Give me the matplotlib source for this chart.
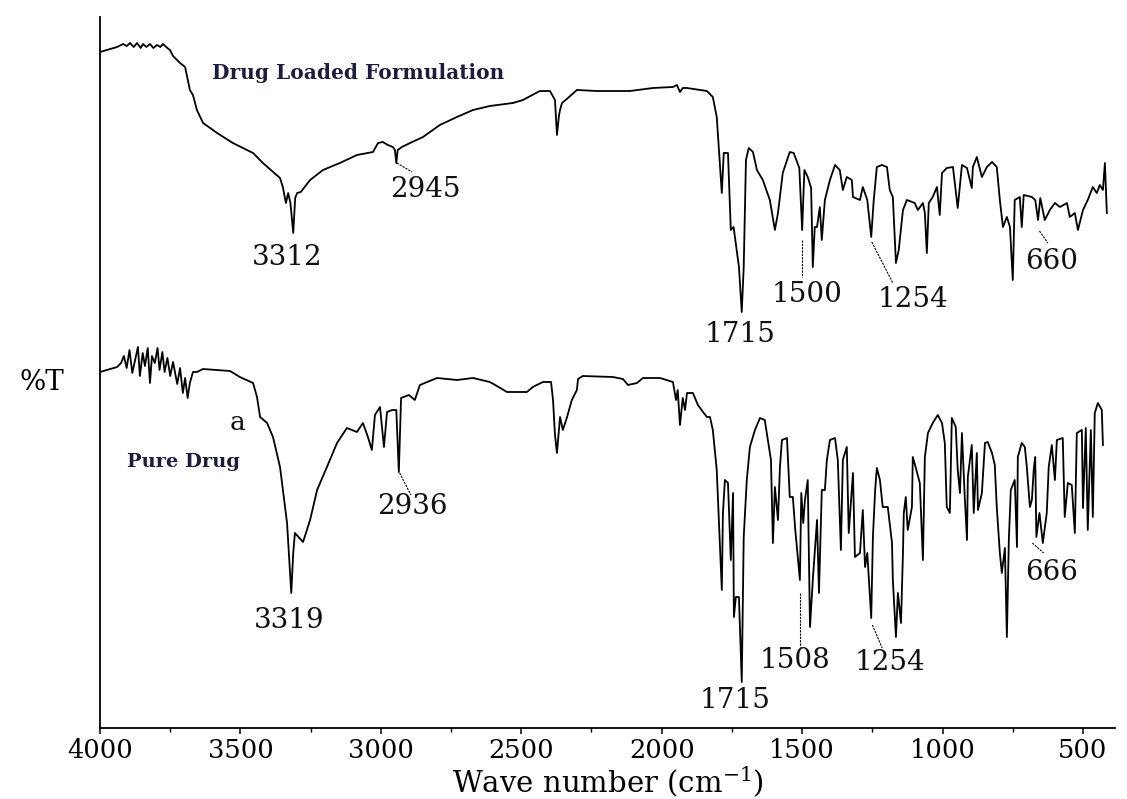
import matplotlib
matplotlib.use("Agg")
import matplotlib.pyplot as plt
from matplotlib.ticker import FixedLocator, MultipleLocator

plt.rcParams["font.family"] = ["DejaVu Serif"]

# FTIR spectrum of the drug-loaded formulation (upper trace, offset %T units)
wn_loaded = [
    4000, 3964, 3939, 3918, 3905, 3893, 3880, 3868, 3855, 3847, 3835, 3822, 3810,
    3797, 3785, 3776, 3760, 3751, 3740, 3733, 3715, 3697, 3680, 3669, 3655, 3633,
    3608, 3583, 3527, 3455, 3420, 3359, 3349, 3338, 3330, 3322, 3312, 3305, 3298,
    3285, 3252, 3206, 3146, 3085, 3028, 3010, 2993, 2975, 2957, 2950, 2945, 2940,
    2925, 2896, 2850, 2790, 2729, 2672, 2612, 2530, 2494, 2434, 2398, 2380, 2373,
    2366, 2362, 2355, 2334, 2302, 2231, 2113, 2031, 1960, 1946, 1935, 1925, 1910,
    1839, 1818, 1804, 1793, 1786, 1779, 1764, 1754, 1744, 1725, 1715, 1708, 1700,
    1690, 1675, 1661, 1640, 1615, 1597, 1586, 1569, 1544, 1530, 1510, 1500, 1492,
    1480, 1468, 1462, 1455, 1447, 1437, 1430, 1419, 1401, 1383, 1366, 1355, 1341,
    1323, 1319, 1294, 1284, 1268, 1254, 1245, 1234, 1216, 1198, 1188, 1177, 1166,
    1156, 1141, 1127, 1099, 1088, 1070, 1063, 1056, 1049, 1035, 1020, 1010, 1002,
    985, 963, 946, 931, 913, 896, 892, 878, 860, 842, 824, 807, 796, 785, 771,
    760, 750, 743, 725, 718, 711, 682, 670, 660, 652, 636, 618, 600, 582, 557,
    547, 529, 518, 500, 483, 465, 451, 440, 429, 422, 415,
]
t_loaded = [
    676, 679, 681, 684, 682, 685, 681, 685, 680, 684, 681, 684, 680,
    683, 681, 684, 680, 678, 672, 670, 665, 661, 638, 633, 618, 605,
    600, 595, 585, 575, 565, 550, 541, 525, 535, 525, 495, 530, 535,
    536, 548, 558, 565, 573, 576, 585, 586, 583, 581, 578, 565, 578,
    581, 585, 591, 603, 611, 618, 622, 625, 628, 637, 637, 628, 593,
    612, 618, 625, 630, 638, 637, 637, 640, 641, 643, 636, 640, 640,
    637, 631, 611, 565, 535, 575, 575, 498, 501, 461, 416, 461, 568,
    580, 576, 558, 548, 528, 498, 515, 555, 576, 575, 560, 498, 558,
    551, 540, 461, 501, 501, 521, 488, 528, 548, 563, 558, 538, 551,
    548, 531, 528, 541, 528, 491, 528, 561, 563, 561, 538, 531, 465,
    478, 518, 528, 525, 518, 525, 515, 475, 525, 531, 541, 513, 555,
    560, 561, 520, 563, 560, 540, 561, 571, 551, 561, 566, 561, 528, 501, 511,
    501, 448, 528, 531, 501, 533, 531, 528, 508, 530, 508, 518, 525, 521, 525,
    511, 515, 498, 518, 528, 541, 535, 543, 538, 565, 515,
]

# FTIR spectrum of the pure drug (lower trace)
wn_pure = [
    4000, 3939, 3925, 3915, 3905, 3895, 3885, 3875, 3865, 3858, 3848, 3840, 3830,
    3822, 3815, 3805, 3795, 3788, 3778, 3770, 3760, 3750, 3740, 3725, 3715, 3705,
    3697, 3688, 3680, 3669, 3655, 3633, 3537, 3502, 3455, 3441, 3430, 3405, 3384,
    3359, 3334, 3319, 3312, 3306, 3277, 3252, 3227, 3192, 3156, 3121, 3085, 3064,
    3046, 3032, 3021, 3003, 2989, 2978, 2960, 2945, 2936, 2928, 2900, 2879, 2861,
    2800, 2729, 2672, 2612, 2587, 2551, 2480, 2459, 2423, 2394, 2387, 2380, 2373,
    2362, 2352, 2337, 2320, 2302, 2298, 2281, 2174, 2138, 2120, 2088, 2067, 2006,
    1960, 1949, 1943, 1935, 1925, 1917, 1910, 1889, 1871, 1853, 1839, 1828, 1818,
    1804, 1796, 1786, 1782, 1775, 1764, 1754, 1746, 1743, 1736, 1725, 1715, 1708,
    1697, 1686, 1668, 1650, 1633, 1622, 1611, 1604, 1597, 1586, 1579, 1572, 1554,
    1544, 1533, 1525, 1508, 1503, 1496, 1490, 1480, 1472, 1462, 1447, 1440, 1430,
    1419, 1412, 1401, 1383, 1373, 1362, 1355, 1341, 1334, 1319, 1312, 1294, 1284,
    1276, 1268, 1254, 1248, 1240, 1234, 1223, 1213, 1195, 1180, 1177, 1166, 1159,
    1148, 1141, 1138, 1131, 1124, 1109, 1106, 1096, 1081, 1070, 1063, 1052, 1035,
    1017, 1002, 992, 985, 974, 967, 953, 946, 938, 931, 921, 913, 910, 896, 889,
    878, 874, 860, 849, 839, 824, 814, 807, 796, 789, 778, 771, 764, 757, 743,
    735, 732, 718, 707, 700, 689, 682, 675, 670, 666, 655, 643, 629, 622, 611,
    600, 593, 572, 565, 554, 540, 529, 522, 504, 500, 490, 483, 472, 465, 458,
    447, 433, 429,
]
t_pure = [
    356, 361, 365, 372, 360, 378, 355, 368, 381, 352, 375, 362, 380,
    345, 372, 365, 380, 358, 376, 356, 370, 352, 366, 344, 360, 335,
    350, 330, 345, 356, 356, 359, 357, 351, 345, 331, 311, 305, 291,
    261, 205, 135, 175, 195, 186, 208, 238, 261, 285, 300, 296, 305,
    291, 278, 313, 321, 281, 316, 318, 318, 256, 330, 333, 328, 343,
    350, 348, 350, 346, 342, 336, 336, 341, 346, 346, 328, 293, 275,
    311, 298, 311, 328, 338, 349, 352, 351, 349, 343, 345, 350, 350,
    346, 328, 338, 303, 330, 318, 335, 335, 323, 316, 311, 311, 298,
    258, 205, 138, 215, 248, 245, 168, 235, 111, 131, 131, 46, 191,
    248, 281, 298, 310, 308, 288, 268, 185, 241, 208, 261, 288, 290,
    231, 231, 200, 148, 235, 205, 228, 248, 101, 148, 208, 135, 238,
    238, 268, 288, 290, 268, 178, 268, 281, 195, 255, 171, 175, 218,
    161, 175, 110, 191, 238, 260, 248, 221, 221, 185, 148, 91, 135,
    105, 175, 215, 231, 198, 221, 271, 261, 245, 168, 271, 295, 305,
    313, 305, 285, 221, 215, 310, 301, 258, 235, 295, 231, 188, 251, 283, 215,
    275, 218, 235, 285, 286, 275, 263, 221, 175, 155, 180, 91, 188, 238, 248,
    181, 271, 285, 281, 261, 221, 228, 260, 271, 191, 215, 185, 215, 261, 283,
    248, 288, 290, 211, 245, 243, 195, 295, 298, 220, 300, 198, 298, 211, 315,
    325, 318, 283,
]

tick_values = [4000, 3500, 3000, 2500, 2000, 1500, 1000, 500]

# (text, wavenumber, %T) for the peak labels
labels_loaded = [("3312", 3334, 470), ("2945", 2843, 538), ("1715", 1722, 393),
                 ("1500", 1483, 433), ("1254", 1106, 428), ("660", 611, 466)]
labels_pure = [("3319", 3327, 108), ("2936", 2889, 221), ("1715", 1739, 28),
               ("1508", 1526, 68), ("1254", 1188, 65), ("666", 611, 155)]

# leader lines joining a band to its label: (w0, t0, w1, t1)
leaders = [
    (2943, 565, 2889, 556),
    (1500, 488, 1500, 451),
    (1252, 486, 1177, 445),
    (655, 497, 625, 485),
    (2933, 255, 2893, 233),
    (1508, 135, 1508, 81),
    (1250, 103, 1215, 80),
    (680, 185, 640, 175),
]

fig = plt.figure(figsize=(11.27, 7.99), dpi=100)
ax = fig.add_axes([100 / 1127, 71 / 799, 1015 / 1127, 711 / 799])

ax.plot(wn_loaded, t_loaded, color="black", lw=1.3)
ax.plot(wn_pure, t_pure, color="black", lw=1.3)

for w0, t0, w1, t1 in leaders:
    ax.plot([w0, w1], [t0, t1], color="black", lw=0.8, ls=(0, (2, 1)))

for txt, w, t in labels_loaded + labels_pure:
    ax.text(w, t, txt, fontsize=20, ha="center", va="center", color="#111111")

ax.text(3601, 655, "Drug Loaded Formulation", fontsize=14.5, fontweight="bold",
        ha="left", va="center", color="#1c1c40")
ax.text(3904, 266, "Pure Drug", fontsize=14, fontweight="bold",
        ha="left", va="center", color="#1c1c40")
ax.text(3512, 305, "a", fontsize=19, ha="center", va="center", color="#111111")

ax.set_xlim(4000, 386)
ax.set_ylim(0, 711)
ax.xaxis.set_major_locator(FixedLocator(tick_values))
ax.xaxis.set_minor_locator(MultipleLocator(250))
ax.set_yticks([])
ax.tick_params(axis="x", which="major", length=4, width=1.1, pad=3, labelsize=18.5)
ax.tick_params(axis="x", which="minor", length=3, width=1.0)
for side in ("top", "right"):
    ax.spines[side].set_visible(False)
for side in ("left", "bottom"):
    ax.spines[side].set_linewidth(1.3)

ax.set_xlabel("Wave number (cm$^{\\mathregular{-1}}$)", fontsize=21, labelpad=1)
fig.text(42 / 1127, 1 - 383 / 799, "%T", fontsize=20, ha="center", va="center")

fig.savefig("out.png", dpi=100)
